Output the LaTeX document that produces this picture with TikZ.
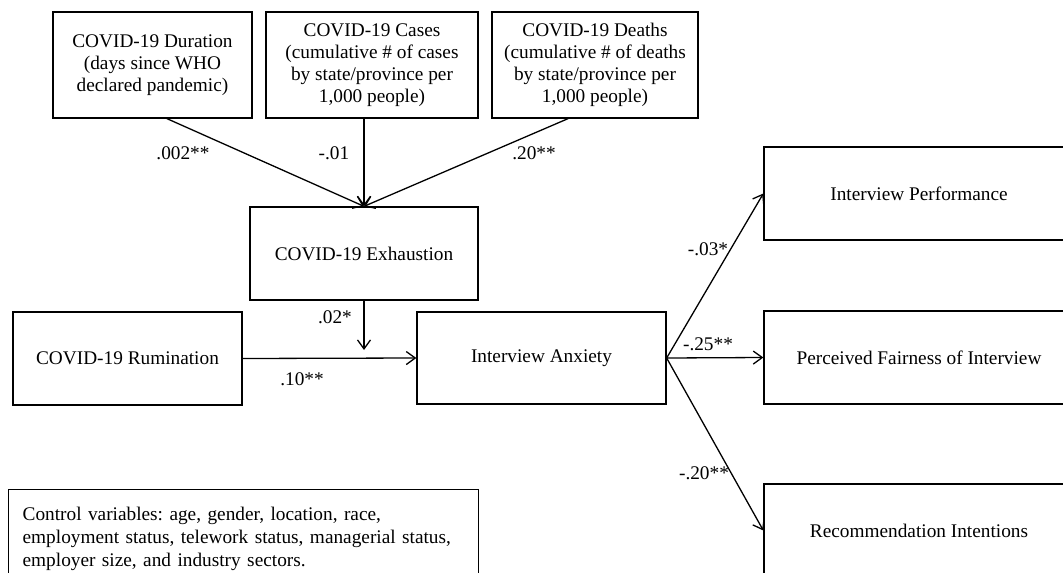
\documentclass[tikz,border=0pt]{standalone}
\usepackage{fontspec}
\setmainfont{Liberation Serif}
\usetikzlibrary{calc, arrows.meta}
\frenchspacing

\begin{document}
\begin{tikzpicture}[x=1pt, y=-1pt, line width=1.3pt,
	font=\fontsize{19.3}{22}\selectfont,
	>={Straight Barb[length=9pt,width=13pt]},
	varbox/.style={draw, align=center, inner sep=0pt},
	coef/.style={inner sep=0pt}]

	% the window is the same size as the original figure (pixels)
	\useasboundingbox (0,0) rectangle (1063,573);

	% predictors on top
	\node[varbox, minimum width=199, minimum height=106] (dur) at (152.5,65) {COVID-19 Duration\\(days since WHO\\declared pandemic)};
	\node[varbox, minimum width=212, minimum height=106] (cases) at (372,65) {COVID-19 Cases\\(cumulative \# of cases\\by state/province per\\1,000 people)};
	\node[varbox, minimum width=206, minimum height=106] (deaths) at (595,65) {COVID-19 Deaths\\(cumulative \# of deaths\\by state/province per\\1,000 people)};

	% moderator, predictor and mediator
	\node[varbox, minimum width=228, minimum height=93] (exh) at (364,253.5) {COVID-19 Exhaustion};
	\node[varbox, minimum width=229, minimum height=93] (rum) at (127.5,358.5) {COVID-19 Rumination};
	\node[varbox, minimum width=249, minimum height=92] (anx) at (541.5,358) {Interview Anxiety};

	% outcomes, cut off by the right edge
	\node[varbox, minimum width=400, minimum height=93] (perf) at (964,193.5) {\hspace*{-90pt}Interview Performance};
	\node[varbox, minimum width=400, minimum height=93] (fair) at (964,357.5) {\hspace*{-90pt}Perceived Fairness of Interview};
	\node[varbox, minimum width=400, minimum height=93] (rec) at (964,530.5) {\hspace*{-90pt}Recommendation Intentions};

	% controls
	\node[draw, anchor=north west, align=left, text width=442, inner xsep=14pt, inner ysep=17pt,
		font=\fontsize{19.3}{23}\selectfont] (ctrl) at (8,489) {Control variables: age, gender, location, race,\\employment status, telework status, managerial status,\\employer size, and industry sectors.};

	% paths
	\draw[->] ($(dur.south)+(14.5,0)$) -- (exh.north);
	\draw[->] (cases.south -| exh.north) -- (exh.north);
	\draw[->] ($(deaths.south)+(-27,0)$) -- (exh.north);
	\draw[->] (rum.east) -- (anx.west);
	\coordinate (mod) at (364,350);
	\draw[->] (exh.south) -- (mod);
	\draw[->] (anx.east) -- (perf.west);
	\draw[->] (anx.east) -- (fair.west);
	\draw[->] (anx.east) -- (rec.west);

	% coefficients
	\node[coef] (c1) at (183,153) {.002**};
	\node[coef] (c2) at (334,153) {-.01};
	\node[coef] (c3) at (534,153) {.20**};
	\node[coef] (c4) at (335,317) {.02*};
	\node[coef] (c5) at (302,379) {.10**};
	\node[coef] (c6) at (708,249) {-.03*};
	\node[coef] (c7) at (708,344) {-.25**};
	\node[coef] (c8) at (704,473) {-.20**};

\end{tikzpicture}
\end{document}
